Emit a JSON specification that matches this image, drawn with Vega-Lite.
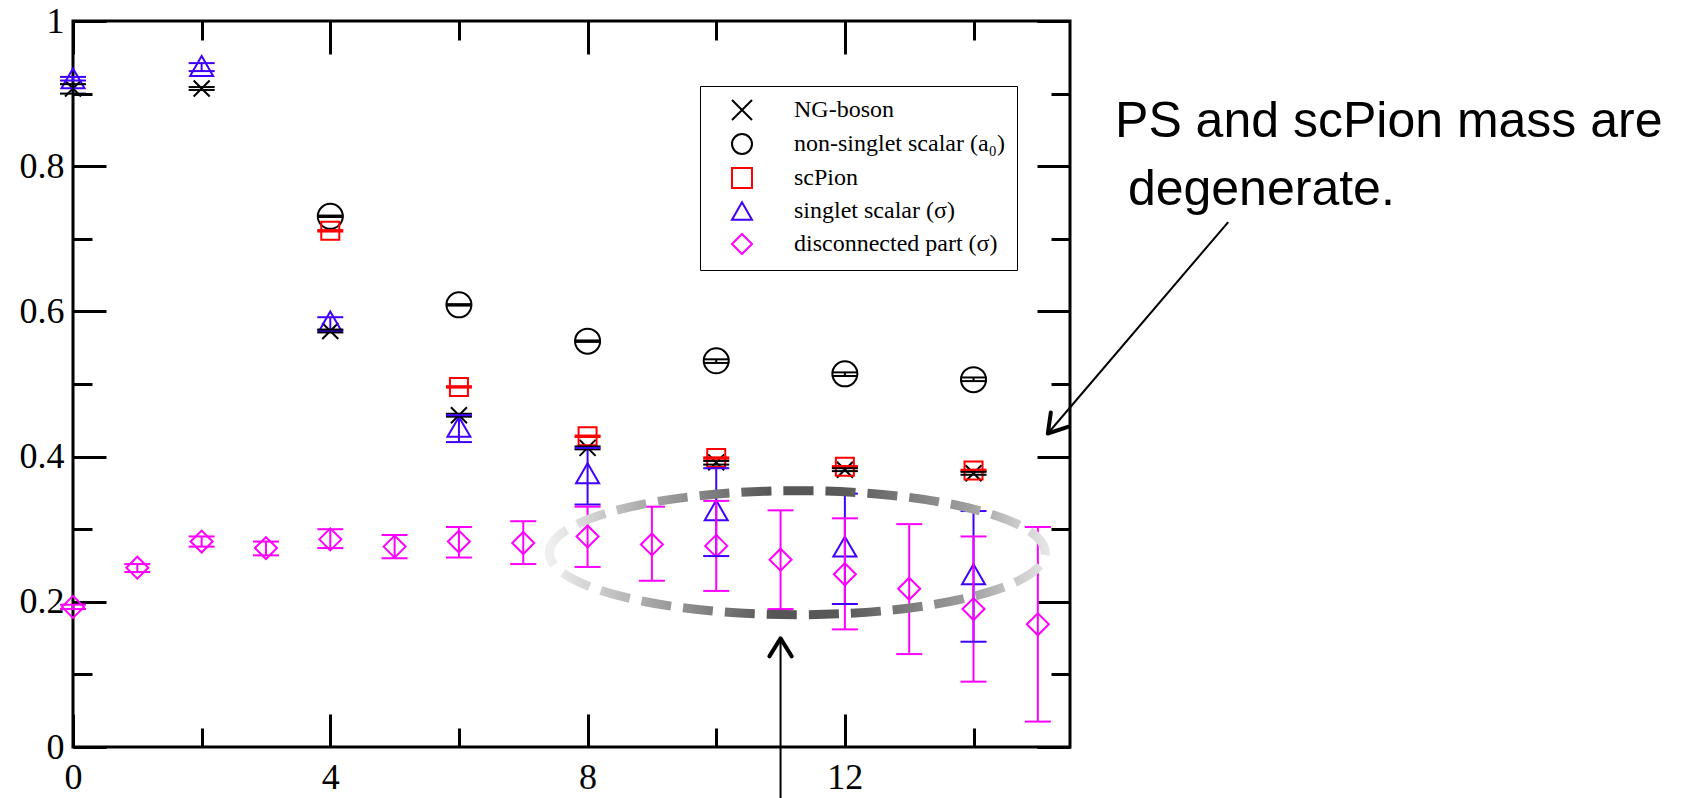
{
  "$schema": "https://vega.github.io/schema/vega-lite/v6.json",
  "width": 997,
  "height": 726,
  "autosize": {"type": "none"},
  "padding": {"left": 73, "top": 21, "right": 611, "bottom": 51},
  "background": "white",
  "config": {
    "view": {"stroke": "black", "strokeWidth": 3},
    "point": {"opacity": 1},
    "axis": {"domain": false, "grid": false, "title": null, "tickColor": "black", "tickWidth": 3, "labelColor": "black", "labelFont": "Liberation Serif", "labelFontSize": 36, "labelFlush": false, "labelOverlap": false, "labelBound": false}
  },
  "datasets": {
    "pts": [
      {"x": 0, "series": "NG-boson", "v": 0.907, "lo": 0.900, "hi": 0.913},
      {"x": 2, "series": "NG-boson", "v": 0.907, "lo": 0.905, "hi": 0.909},
      {"x": 4, "series": "NG-boson", "v": 0.573, "lo": 0.571, "hi": 0.575},
      {"x": 6, "series": "NG-boson", "v": 0.457, "lo": 0.455, "hi": 0.459},
      {"x": 8, "series": "NG-boson", "v": 0.412, "lo": 0.410, "hi": 0.414},
      {"x": 10, "series": "NG-boson", "v": 0.392, "lo": 0.389, "hi": 0.394},
      {"x": 12, "series": "NG-boson", "v": 0.382, "lo": 0.380, "hi": 0.384},
      {"x": 14, "series": "NG-boson", "v": 0.377, "lo": 0.375, "hi": 0.379},
      {"x": 4, "series": "non-singlet scalar (a₀)", "v": 0.731, "lo": 0.730, "hi": 0.732},
      {"x": 6, "series": "non-singlet scalar (a₀)", "v": 0.609, "lo": 0.608, "hi": 0.610},
      {"x": 8, "series": "non-singlet scalar (a₀)", "v": 0.559, "lo": 0.558, "hi": 0.560},
      {"x": 10, "series": "non-singlet scalar (a₀)", "v": 0.532, "lo": 0.529, "hi": 0.534},
      {"x": 12, "series": "non-singlet scalar (a₀)", "v": 0.514, "lo": 0.511, "hi": 0.516},
      {"x": 14, "series": "non-singlet scalar (a₀)", "v": 0.506, "lo": 0.504, "hi": 0.509},
      {"x": 4, "series": "scPion", "v": 0.711, "lo": 0.710, "hi": 0.712},
      {"x": 6, "series": "scPion", "v": 0.496, "lo": 0.495, "hi": 0.497},
      {"x": 8, "series": "scPion", "v": 0.428, "lo": 0.427, "hi": 0.429},
      {"x": 10, "series": "scPion", "v": 0.398, "lo": 0.397, "hi": 0.399},
      {"x": 12, "series": "scPion", "v": 0.386, "lo": 0.385, "hi": 0.387},
      {"x": 14, "series": "scPion", "v": 0.381, "lo": 0.380, "hi": 0.382},
      {"x": 0, "series": "singlet scalar (σ)", "v": 0.921, "lo": 0.918, "hi": 0.923},
      {"x": 2, "series": "singlet scalar (σ)", "v": 0.938, "lo": 0.931, "hi": 0.942},
      {"x": 4, "series": "singlet scalar (σ)", "v": 0.586, "lo": 0.574, "hi": 0.592},
      {"x": 6, "series": "singlet scalar (σ)", "v": 0.441, "lo": 0.420, "hi": 0.457},
      {"x": 8, "series": "singlet scalar (σ)", "v": 0.377, "lo": 0.334, "hi": 0.412},
      {"x": 10, "series": "singlet scalar (σ)", "v": 0.326, "lo": 0.263, "hi": 0.384},
      {"x": 12, "series": "singlet scalar (σ)", "v": 0.276, "lo": 0.197, "hi": 0.349},
      {"x": 14, "series": "singlet scalar (σ)", "v": 0.238, "lo": 0.145, "hi": 0.325},
      {"x": 0, "series": "disconnected part (σ)", "v": 0.193, "lo": 0.190, "hi": 0.196},
      {"x": 1, "series": "disconnected part (σ)", "v": 0.247, "lo": 0.241, "hi": 0.252},
      {"x": 2, "series": "disconnected part (σ)", "v": 0.283, "lo": 0.276, "hi": 0.290},
      {"x": 3, "series": "disconnected part (σ)", "v": 0.274, "lo": 0.264, "hi": 0.283},
      {"x": 4, "series": "disconnected part (σ)", "v": 0.286, "lo": 0.274, "hi": 0.300},
      {"x": 5, "series": "disconnected part (σ)", "v": 0.276, "lo": 0.260, "hi": 0.292},
      {"x": 6, "series": "disconnected part (σ)", "v": 0.283, "lo": 0.261, "hi": 0.303},
      {"x": 7, "series": "disconnected part (σ)", "v": 0.281, "lo": 0.252, "hi": 0.311},
      {"x": 8, "series": "disconnected part (σ)", "v": 0.290, "lo": 0.248, "hi": 0.331},
      {"x": 9, "series": "disconnected part (σ)", "v": 0.279, "lo": 0.229, "hi": 0.331},
      {"x": 10, "series": "disconnected part (σ)", "v": 0.277, "lo": 0.215, "hi": 0.339},
      {"x": 11, "series": "disconnected part (σ)", "v": 0.258, "lo": 0.190, "hi": 0.326},
      {"x": 12, "series": "disconnected part (σ)", "v": 0.238, "lo": 0.162, "hi": 0.315},
      {"x": 13, "series": "disconnected part (σ)", "v": 0.218, "lo": 0.128, "hi": 0.307},
      {"x": 14, "series": "disconnected part (σ)", "v": 0.190, "lo": 0.090, "hi": 0.290},
      {"x": 15, "series": "disconnected part (σ)", "v": 0.169, "lo": 0.035, "hi": 0.303}
    ]
  },
  "resolve": {"axis": {"x": "independent", "y": "independent"}},
  "layer": [
    {
      "data": {"name": "pts"},
      "mark": {"type": "point", "filled": false, "strokeWidth": 2, "opacity": 1},
      "encoding": {
        "x": {"field": "x", "type": "quantitative", "scale": {"domain": [0, 15.5], "nice": false, "zero": false},
          "axis": {"orient": "bottom", "values": [0, 2, 4, 6, 8, 10, 12, 14], "labelExpr": "datum.value % 4 === 0 ? datum.label : ''", "tickSize": {"condition": {"test": "datum.value % 4 === 0", "value": -33}, "value": -19}, "labelPadding": 46, "labelFontSize": 36, "labelFont": "Liberation Serif"}},
        "y": {"field": "v", "type": "quantitative", "scale": {"domain": [0, 1], "nice": false, "zero": false},
          "axis": {"orient": "left", "values": [0, 0.1, 0.2, 0.3, 0.4, 0.5, 0.6, 0.7, 0.8, 0.9, 1], "format": ".1~f", "labelExpr": "round(datum.value * 10) % 2 === 0 ? datum.label : ''", "tickSize": {"condition": {"test": "round(datum.value * 10) % 2 === 0", "value": -33}, "value": -19}, "labelPadding": 42, "labelFontSize": 36, "labelFont": "Liberation Serif"}},
        "color": {"field": "series", "type": "nominal", "scale": {"domain": ["NG-boson", "non-singlet scalar (a₀)", "scPion", "singlet scalar (σ)", "disconnected part (σ)"], "range": ["#000000", "#000000", "#ff0000", "#4000ff", "#ff00ff"]},
          "legend": {"orient": "none", "legendX": 627, "legendY": 65, "title": null, "strokeColor": "black", "fillColor": "white", "padding": 12, "symbolOffset": 18, "labelOffset": 40, "rowPadding": 6, "labelFont": "Liberation Serif", "labelFontSize": 24, "labelColor": "black", "labelLimit": 0, "symbolSize": 400, "symbolStrokeWidth": 2}},
        "shape": {"field": "series", "type": "nominal", "scale": {"domain": ["NG-boson", "non-singlet scalar (a₀)", "scPion", "singlet scalar (σ)", "disconnected part (σ)"], "range": ["M-1,-1L1,1M-1,1L1,-1", "circle", "square", "triangle-up", "diamond"]}},
        "size": {"condition": [
          {"test": "datum.series === 'NG-boson'", "value": 256},
          {"test": "datum.series === 'scPion'", "value": 324},
          {"test": "datum.series === 'singlet scalar (σ)'", "value": 529},
          {"test": "datum.series === 'disconnected part (σ)'", "value": 484}
        ], "value": 625}
      }
    },
    {
      "data": {"name": "pts"},
      "mark": {"type": "rule", "strokeWidth": 2},
      "encoding": {
        "x": {"field": "x", "type": "quantitative", "scale": {"domain": [0, 15.5], "nice": false, "zero": false},
          "axis": {"orient": "top", "values": [0, 2, 4, 6, 8, 10, 12, 14], "labels": false, "tickSize": {"condition": {"test": "datum.value % 4 === 0", "value": -33}, "value": -19}}},
        "y": {"field": "lo", "type": "quantitative", "scale": {"domain": [0, 1], "nice": false, "zero": false},
          "axis": {"orient": "right", "values": [0, 0.1, 0.2, 0.3, 0.4, 0.5, 0.6, 0.7, 0.8, 0.9, 1], "labels": false, "tickSize": {"condition": {"test": "round(datum.value * 10) % 2 === 0", "value": -33}, "value": -19}}},
        "y2": {"field": "hi"},
        "color": {"field": "series", "type": "nominal"}
      }
    },
    {
      "data": {"name": "pts"},
      "mark": {"type": "point", "shape": "stroke", "size": 676, "filled": false, "strokeWidth": 2, "opacity": 1},
      "encoding": {
        "x": {"field": "x", "type": "quantitative", "scale": {"domain": [0, 15.5], "nice": false, "zero": false}, "axis": null},
        "y": {"field": "lo", "type": "quantitative", "scale": {"domain": [0, 1], "nice": false, "zero": false}, "axis": null},
        "color": {"field": "series", "type": "nominal"}
      }
    },
    {
      "data": {"name": "pts"},
      "mark": {"type": "point", "shape": "stroke", "size": 676, "filled": false, "strokeWidth": 2, "opacity": 1},
      "encoding": {
        "x": {"field": "x", "type": "quantitative", "scale": {"domain": [0, 15.5], "nice": false, "zero": false}, "axis": null},
        "y": {"field": "hi", "type": "quantitative", "scale": {"domain": [0, 1], "nice": false, "zero": false}, "axis": null},
        "color": {"field": "series", "type": "nominal"}
      }
    },
    {
      "data": {"values": [{"x": 11.26, "y": 0.2676}]},
      "mark": {"type": "point", "shape": "M-1,0C-1,-0.138,-0.552,-0.25,0,-0.25C0.552,-0.25,1,-0.138,1,0C1,0.138,0.552,0.25,0,0.25C-0.552,0.25,-1,0.138,-1,0Z", "size": 246016, "filled": false, "strokeWidth": 9, "strokeDash": [30, 12], "opacity": 1,
        "stroke": {"gradient": "linear", "x1": 0, "y1": 0, "x2": 1, "y2": 0, "stops": [{"offset": 0, "color": "#f0f0f0"}, {"offset": 0.2, "color": "#a8a8a8"}, {"offset": 0.45, "color": "#555555"}, {"offset": 0.6, "color": "#5a5a5a"}, {"offset": 0.85, "color": "#a0a0a0"}, {"offset": 1, "color": "#e4e4e4"}]}},
      "encoding": {
        "x": {"field": "x", "type": "quantitative", "scale": {"domain": [0, 15.5], "nice": false, "zero": false}, "axis": null},
        "y": {"field": "y", "type": "quantitative", "scale": {"domain": [0, 1], "nice": false, "zero": false}, "axis": null}
      }
    },
    {
      "data": {"values": [{"x": 11.0, "y": -0.08, "x2": 11.0, "y2": 0.1496}, {"x": 17.96, "y": 0.7231, "x2": 15.155, "y2": 0.4318}]},
      "mark": {"type": "rule", "strokeWidth": 2, "color": "black"},
      "encoding": {
        "x": {"field": "x", "type": "quantitative", "scale": {"domain": [0, 15.5], "nice": false, "zero": false}, "axis": null},
        "y": {"field": "y", "type": "quantitative", "scale": {"domain": [0, 1], "nice": false, "zero": false}, "axis": null},
        "x2": {"field": "x2"},
        "y2": {"field": "y2"}
      }
    },
    {
      "data": {"values": [{"x": 11.0, "y": 0.1496}]},
      "mark": {"type": "point", "shape": "M-0.62,1L0,0L0.62,1", "size": 1296, "filled": false, "strokeWidth": 4, "strokeCap": "round", "strokeJoin": "round", "color": "black", "opacity": 1, "angle": 0},
      "encoding": {
        "x": {"field": "x", "type": "quantitative", "scale": {"domain": [0, 15.5], "nice": false, "zero": false}, "axis": null},
        "y": {"field": "y", "type": "quantitative", "scale": {"domain": [0, 1], "nice": false, "zero": false}, "axis": null}
      }
    },
    {
      "data": {"values": [{"x": 15.155, "y": 0.4318}]},
      "mark": {"type": "point", "shape": "M-0.62,1L0,0L0.62,1", "size": 1296, "filled": false, "strokeWidth": 4, "strokeCap": "round", "strokeJoin": "round", "color": "black", "opacity": 1, "angle": 220},
      "encoding": {
        "x": {"field": "x", "type": "quantitative", "scale": {"domain": [0, 15.5], "nice": false, "zero": false}, "axis": null},
        "y": {"field": "y", "type": "quantitative", "scale": {"domain": [0, 1], "nice": false, "zero": false}, "axis": null}
      }
    },
    {
      "data": {"values": [{"x": 16.2, "y": 0.8396, "t": "PS and scPion mass are"}, {"x": 16.4, "y": 0.746, "t": "degenerate."}]},
      "mark": {"type": "text", "align": "left", "baseline": "alphabetic", "font": "Liberation Sans", "fontSize": 50, "color": "black"},
      "encoding": {
        "x": {"field": "x", "type": "quantitative", "scale": {"domain": [0, 15.5], "nice": false, "zero": false}, "axis": null},
        "y": {"field": "y", "type": "quantitative", "scale": {"domain": [0, 1], "nice": false, "zero": false}, "axis": null},
        "text": {"field": "t"}
      }
    }
  ]
}
